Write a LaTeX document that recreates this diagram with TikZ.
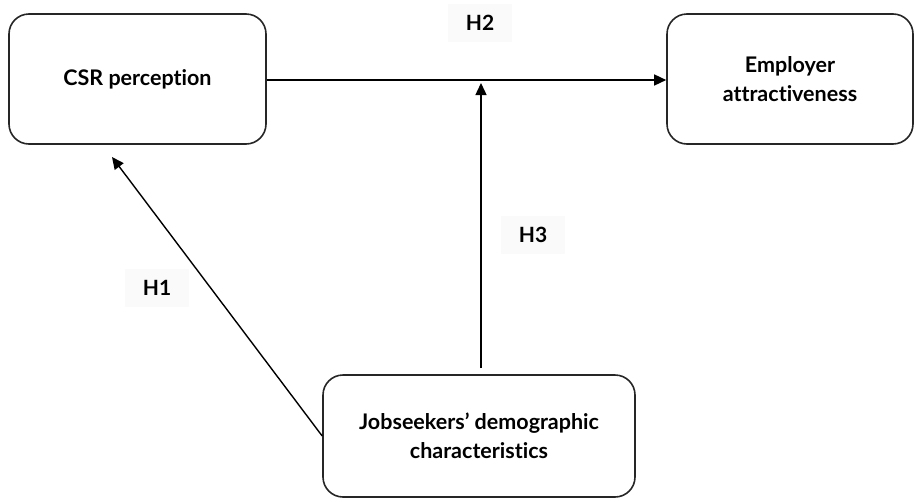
\documentclass[tikz,border=0pt]{standalone}
\usepackage{fontspec}
\setmainfont{Lato}[Ligatures={NoCommon}]
\usetikzlibrary{arrows.meta}
\begin{document}
\begin{tikzpicture}[x=1pt,y=-1pt,
  box/.style={draw=black!85,line width=1.6pt,rounded corners=20pt,fill=white,align=center,
    font=\fontsize{21.5}{29}\selectfont\bfseries,inner sep=0pt},
  conn/.style={draw=black,line width=1.4pt,-{Triangle[length=12pt,width=11pt]}},
  hlab/.style={fill=black!2,font=\fontsize{21}{22}\selectfont\bfseries,minimum width=64pt,minimum height=38pt,inner sep=0pt}]
\useasboundingbox[fill=white] (0,0) rectangle (916,501);
\node[box,minimum width=257pt,minimum height=130pt] (csr) at (137.5,79) {CSR perception};
\node[box,minimum width=246pt,minimum height=130pt] (emp) at (790,79) {Employer\\attractiveness};
\node[box,minimum width=312pt,minimum height=122pt] (job) at (479,436) {\raisebox{-4pt}{Jobseekers’ demographic}\\\raisebox{-4pt}{characteristics}};
\node[hlab] (h2) at (480,23) {H2};
\node[hlab] (h3) at (533,235) {H3};
\node[hlab] (h1) at (157,288) {H1};
\coordinate (vbot) at (481,368);
\coordinate (vtop) at (481,83);
\coordinate (h1tip) at (112,157);
\draw[conn] (csr.east |- 0,80) -- (emp.west |- 0,80);
\draw[conn] (vbot) -- (vtop);
\draw[conn] (job.west) -- (h1tip);
\end{tikzpicture}
\end{document}
